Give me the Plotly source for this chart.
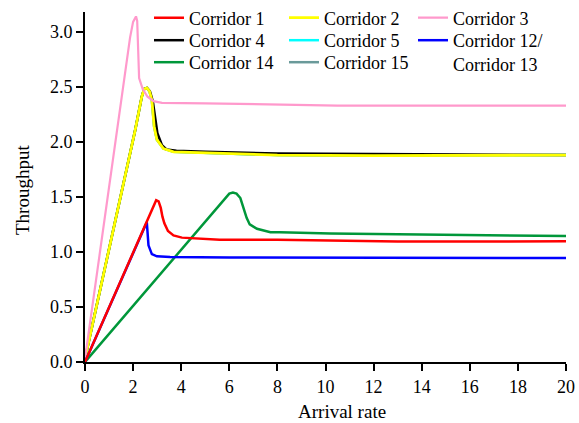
import plotly.graph_objects as go

# Throughput vs arrival rate for each corridor
c1_x = [0, 2.57, 2.85, 2.96, 3.06, 3.15, 3.22, 3.3, 3.45, 3.68, 4.03, 4.93, 5.6, 8, 10, 13, 16, 20]
c1_y = [0, 1.27, 1.41, 1.47, 1.46, 1.40, 1.32, 1.26, 1.19, 1.15, 1.13, 1.12, 1.11, 1.11, 1.105, 1.095, 1.095, 1.097]

c2_x = [0, 1.46, 2.08, 2.36, 2.46, 2.57, 2.68, 2.78, 2.875, 2.99, 3.26, 3.68, 5, 8, 12, 16, 20]
c2_y = [0.03, 1.47, 2.10, 2.41, 2.48, 2.49, 2.46, 2.38, 2.14, 2.02, 1.94, 1.91, 1.90, 1.88, 1.875, 1.88, 1.88]

c3_x = [0, 1.32, 1.875, 2.0, 2.07, 2.12, 2.17, 2.2, 2.25, 2.4, 2.6, 2.85, 3.2, 5, 8, 10.5, 20]
c3_y = [0.03, 2.10, 2.95, 3.09, 3.13, 3.14, 3.10, 2.95, 2.58, 2.48, 2.41, 2.37, 2.355, 2.35, 2.34, 2.33, 2.33]

c4_x = [0, 1.46, 2.08, 2.36, 2.46, 2.58, 2.70, 2.82, 2.92, 3.01, 3.2, 3.4, 3.8, 5, 8, 11, 14, 17, 20]
c4_y = [0.03, 1.47, 2.10, 2.41, 2.48, 2.49, 2.46, 2.37, 2.20, 2.08, 1.97, 1.93, 1.92, 1.91, 1.895, 1.89, 1.885, 1.88, 1.88]

c5_x = [0, 1.46, 2.08, 2.36, 2.46, 2.57, 2.68, 2.78, 2.875, 2.99, 3.26, 3.68, 5, 8, 12, 16, 20]
c5_y = [0.03, 1.47, 2.10, 2.41, 2.48, 2.49, 2.46, 2.38, 2.14, 2.02, 1.94, 1.91, 1.90, 1.88, 1.875, 1.88, 1.88]

c12_x = [0, 2.57, 2.64, 2.78, 2.99, 3.54, 6, 10, 15, 20]
c12_y = [0, 1.27, 1.06, 0.98, 0.96, 0.955, 0.95, 0.95, 0.948, 0.945]

c14_x = [0, 5.8, 6.0, 6.15, 6.3, 6.46, 6.6, 6.72, 6.85, 7.15, 7.71, 8.1, 10.2, 15, 20]
c14_y = [0, 1.48, 1.53, 1.54, 1.53, 1.49, 1.40, 1.31, 1.25, 1.21, 1.18, 1.18, 1.167, 1.155, 1.145]

c15_x = [0, 1.46, 2.08, 2.36, 2.46, 2.57, 2.68, 2.78, 2.875, 2.99, 3.26, 3.68, 5, 8, 12, 16, 20]
c15_y = [0.03, 1.47, 2.10, 2.41, 2.48, 2.49, 2.46, 2.38, 2.14, 2.02, 1.94, 1.91, 1.90, 1.88, 1.875, 1.88, 1.88]

x_ticks = [0, 2, 4, 6, 8, 10, 12, 14, 16, 18, 20]
y_ticks = [0.0, 0.5, 1.0, 1.5, 2.0, 2.5, 3.0]

FONT = "Liberation Serif"

# plot-area geometry in pixels (used to place legend entries)
L, R, T, B = 85, 13, 12, 61
W, H = 579, 423
PW, PH = W - L - R, H - T - B


def px_x(p):
    return (p - L) / PW


def px_y(p):
    return (H - B - p) / PH


# (name, x, y, colour, width, legend id)  -- drawn in this order
series = [
    ("Corridor 5", c5_x, c5_y, "#00ffff", 2.5, "legend5"),
    ("Corridor 15", c15_x, c15_y, "#6a9a9a", 2.5, "legend8"),
    ("Corridor 4", c4_x, c4_y, "#000000", 2.5, "legend4"),
    ("Corridor 2", c2_x, c2_y, "#ffff00", 2.8, "legend2"),
    ("Corridor 3", c3_x, c3_y, "#ff99cc", 2.2, "legend3"),
    ("Corridor 14", c14_x, c14_y, "#00973a", 2.5, "legend7"),
    ("Corridor 12/<br>Corridor 13", c12_x, c12_y, "#0000ff", 2.5, "legend6"),
    ("Corridor 1", c1_x, c1_y, "#ff0000", 2.5, "legend"),
]

fig = go.Figure()
for name, xs, ys, col, w, lg in series:
    fig.add_trace(go.Scatter(x=xs, y=ys, mode="lines", name=name, showlegend=True,
                             line=dict(color=col, width=w), legend=lg))

# legend grid: three columns, three rows
col_px = [149, 284, 413]
row_px = [18, 40.5, 62.5]
slots = {
    "legend": (0, 0), "legend2": (1, 0), "legend3": (2, 0),
    "legend4": (0, 1), "legend5": (1, 1), "legend6": (2, 1),
    "legend7": (0, 2), "legend8": (1, 2),
}
legend_layout = {}
for key, (c, r) in slots.items():
    cy = row_px[r]
    if key == "legend6":
        cy += 11.5
    legend_layout[key] = dict(
        x=px_x(col_px[c]), y=px_y(cy), xanchor="left", yanchor="middle",
        bgcolor="rgba(0,0,0,0)", borderwidth=0, valign="top",
        font=dict(family=FONT, size=18, color="black"),
    )

fig.update_layout(
    width=W, height=H,
    margin=dict(l=L, r=R, t=T, b=B, autoexpand=False),
    plot_bgcolor="white", paper_bgcolor="white",
    font=dict(family=FONT, size=18, color="black"),
    showlegend=True,
    **legend_layout,
    xaxis=dict(range=[0, 20], tickvals=x_ticks, showline=True, linecolor="black",
               linewidth=2, ticks="outside", ticklen=7, tickwidth=2, tickcolor="black",
               showgrid=False, zeroline=False,
               tickfont=dict(family=FONT, size=18, color="black")),
    yaxis=dict(range=[0, 3.18], tickvals=y_ticks, tickformat=".1f", showline=True,
               linecolor="black", linewidth=2, ticks="outside", ticklen=7, tickwidth=2,
               tickcolor="black", showgrid=False, zeroline=False,
               tickfont=dict(family=FONT, size=18, color="black")),
    annotations=[
        dict(text="Arrival rate", x=px_x(342), y=px_y(411), xref="paper", yref="paper",
             showarrow=False, xanchor="center", yanchor="middle",
             font=dict(family=FONT, size=19, color="black")),
        dict(text="Throughput", x=px_x(22), y=px_y(190), xref="paper", yref="paper",
             showarrow=False, xanchor="center", yanchor="middle", textangle=-90,
             font=dict(family=FONT, size=19, color="black")),
    ],
)

fig.write_html("out.html")
